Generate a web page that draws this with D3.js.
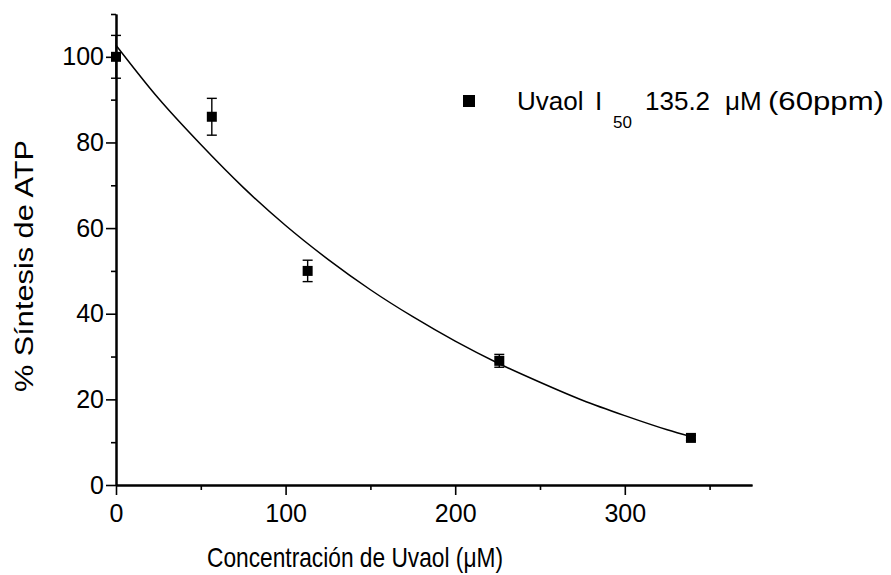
<!DOCTYPE html>
<html>
<head>
<meta charset="utf-8">
<script src="https://cdn.jsdelivr.net/npm/d3@7"></script>
<style>
  body { margin: 0; background: #fff; }
  svg { display: block; font-family: "Liberation Sans", Arial, sans-serif; }
</style>
</head>
<body>
<div id="chart"></div>
<script>
// measured points (concentration uM, % ATP synthesis, error)
const concVals = [0, 56.5, 113, 226, 339];
const atpVals = [100, 86, 50, 29, 11];
const errVals = [5, 4.3, 2.5, 1.5, 0.6];

// fitted curve
const fitX = [0, 25, 50, 75, 100, 125, 150, 175, 200, 225, 250, 275, 300, 325, 339];
const fitY = [102.7, 90.3, 79.5, 69.5, 60.6, 52.7, 45.6, 39.3, 33.6, 28.5, 24.0, 19.8, 16.2, 12.9, 11.3];

const xMajor = [0, 100, 200, 300];
const xMinor = [50, 150, 250, 350];
const yMajor = [0, 20, 40, 60, 80, 100];
const yMinor = [10, 30, 50, 70, 90, 110];

const W = 891, H = 575;
const svg = d3.select('#chart').append('svg').attr('width', W).attr('height', H);

const x = d3.scaleLinear().domain([0, 375]).range([116, 752]);
const y = d3.scaleLinear().domain([0, 110]).range([485, 14]);

function styleAxis(g) {
  g.select('.domain').attr('stroke', '#000').attr('stroke-width', 2);
  g.selectAll('.tick line').attr('stroke', '#000').attr('stroke-width', 1.6);
  g.selectAll('.tick text').attr('fill', '#000').style('font-size', '25px');
}

// minor ticks first
svg.append('g').attr('transform', `translate(0,${y(0)})`)
  .call(d3.axisBottom(x).tickValues(xMinor).tickSize(5).tickSizeOuter(0).tickFormat(''))
  .call(styleAxis);
svg.append('g').attr('transform', `translate(${x(0)},0)`)
  .call(d3.axisLeft(y).tickValues(yMinor).tickSize(5).tickSizeOuter(0).tickFormat(''))
  .call(styleAxis);

// major ticks with labels
svg.append('g').attr('transform', `translate(0,${y(0)})`)
  .call(d3.axisBottom(x).tickValues(xMajor).tickSize(10).tickSizeOuter(0).tickPadding(9).tickFormat(d3.format('d')))
  .call(styleAxis);
svg.append('g').attr('transform', `translate(${x(0)},0)`)
  .call(d3.axisLeft(y).tickValues(yMajor).tickSize(10).tickSizeOuter(0).tickPadding(2).tickFormat(d3.format('d')))
  .call(styleAxis);

// fit curve
const line = d3.line().x((d, i) => x(fitX[i])).y(d => y(d)).curve(d3.curveMonotoneX);
svg.append('path').datum(fitY)
  .attr('d', line)
  .attr('fill', 'none')
  .attr('stroke', '#000')
  .attr('stroke-width', 1.5);

// error bars
const pts = concVals.map((c, i) => ({ c, v: atpVals[i], e: errVals[i] }));
const eb = svg.append('g').attr('stroke', '#000').attr('stroke-width', 1.4);
pts.forEach(p => {
  eb.append('line').attr('x1', x(p.c)).attr('x2', x(p.c)).attr('y1', y(p.v + p.e)).attr('y2', y(p.v - p.e));
  [p.v + p.e, p.v - p.e].forEach(v => {
    eb.append('line').attr('x1', x(p.c) - 5).attr('x2', x(p.c) + 5).attr('y1', y(v)).attr('y2', y(v));
  });
});

// markers
svg.append('g').selectAll('rect').data(pts).join('rect')
  .attr('x', d => x(d.c) - 5)
  .attr('y', d => y(d.v) - 5)
  .attr('width', 10)
  .attr('height', 10)
  .attr('fill', '#000');

// legend
svg.append('rect').attr('x', 463).attr('y', 95).attr('width', 12).attr('height', 12).attr('fill', '#000');
const leg = svg.append('text').attr('y', 110).style('font-size', '26px').attr('fill', '#000');
leg.append('tspan').attr('x', 517).text('Uvaol');
leg.append('tspan').attr('x', 595).text('I');
leg.append('tspan').attr('x', 613).attr('y', 128).style('font-size', '17px').text('50');
leg.append('tspan').attr('x', 645).attr('y', 110).text('135.2');
leg.append('tspan').attr('x', 725).text('\u03bcM');
leg.append('tspan').attr('x', 768).attr('textLength', 116).attr('lengthAdjust', 'spacingAndGlyphs').text('(60ppm)');

// axis titles
svg.append('text')
  .attr('x', 355).attr('y', 567)
  .attr('text-anchor', 'middle')
  .attr('textLength', 296).attr('lengthAdjust', 'spacingAndGlyphs')
  .style('font-size', '28px')
  .text('Concentración de Uvaol (\u03bcM)');

svg.append('text')
  .attr('transform', 'translate(33,266) rotate(-90)')
  .attr('text-anchor', 'middle')
  .attr('textLength', 252).attr('lengthAdjust', 'spacingAndGlyphs')
  .style('font-size', '26px')
  .text('% Síntesis de ATP');
</script>
</body>
</html>
